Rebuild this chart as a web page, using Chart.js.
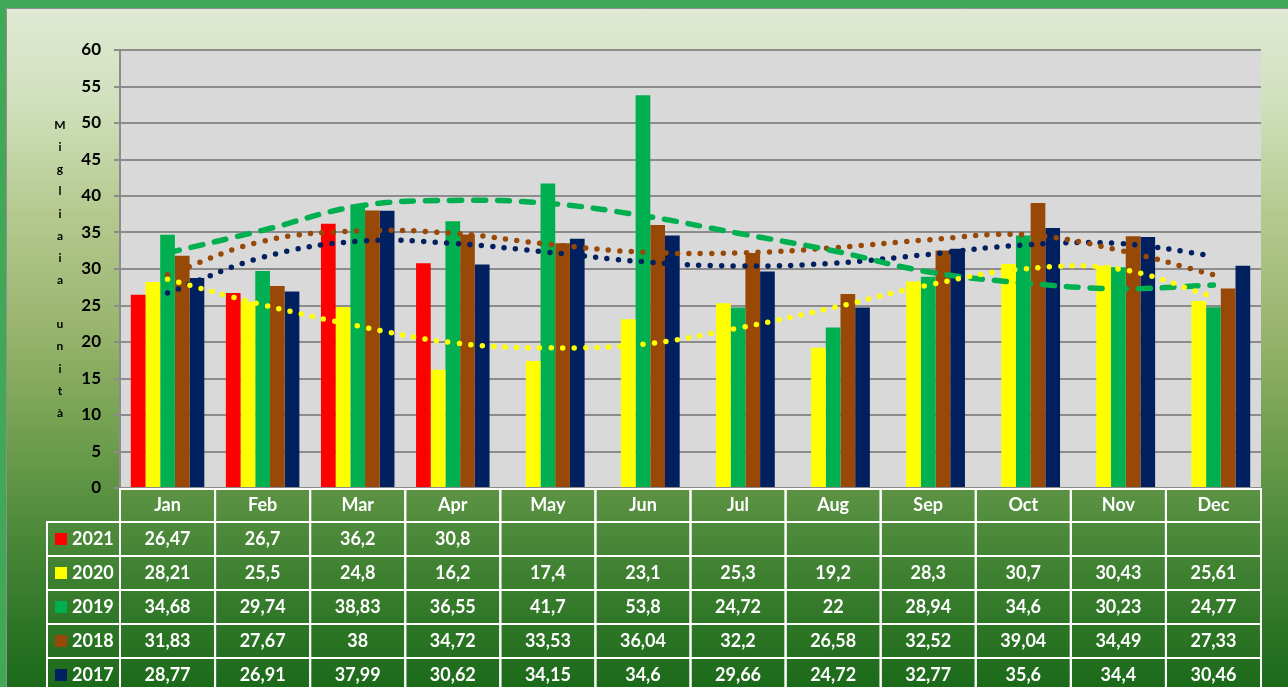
<!DOCTYPE html>
<html>
<head>
<meta charset="utf-8">
<script src="https://cdn.jsdelivr.net/npm/chart.js@4.4.0/dist/chart.umd.min.js"></script>
<style>
  html, body { margin: 0; padding: 0; background: #41a857; overflow: hidden; }
  canvas { display: block; }
</style>
</head>
<body>
<canvas id="chart" width="1288" height="687"></canvas>
<script>
// Data
const months = ['Jan', 'Feb', 'Mar', 'Apr', 'May', 'Jun', 'Jul', 'Aug', 'Sep', 'Oct', 'Nov', 'Dec'];
const years = ['2021', '2020', '2019', '2018', '2017'];

const values2021 = [26.47, 26.7, 36.2, 30.8, null, null, null, null, null, null, null, null];
const values2020 = [28.21, 25.5, 24.8, 16.2, 17.4, 23.1, 25.3, 19.2, 28.3, 30.7, 30.43, 25.61];
const values2019 = [34.68, 29.74, 38.83, 36.55, 41.7, 53.8, 24.72, 22, 28.94, 34.6, 30.23, 24.77];
const values2018 = [31.83, 27.67, 38, 34.72, 33.53, 36.04, 32.2, 26.58, 32.52, 39.04, 34.49, 27.33];
const values2017 = [28.77, 26.91, 37.99, 30.62, 34.15, 34.6, 29.66, 24.72, 32.77, 35.6, 34.4, 30.46];

// trend lines, read point by point at each month
const trend2020 = [28.6, 25.1, 22.2, 19.9, 19.2, 19.7, 21.9, 24.7, 27.8, 30.0, 30.0, 26.2];
const trend2019 = [32.2, 35.3, 38.6, 39.4, 39.0, 37.3, 34.9, 32.5, 29.6, 28.1, 27.3, 27.8];
const trend2018 = [29.2, 33.8, 35.2, 34.9, 33.4, 32.3, 32.2, 32.9, 34.0, 34.7, 32.6, 29.2];
const trend2017 = [26.7, 31.6, 33.8, 33.5, 32.3, 31.0, 30.4, 30.8, 32.0, 33.3, 33.5, 31.8];

const yTicks = [0, 5, 10, 15, 20, 25, 30, 35, 40, 45, 50, 55, 60];
const axisTitle = 'Migliaia unità';

const seriesValues = [values2021, values2020, values2019, values2018, values2017];
const seriesColors = ['#ff0000', '#ffff00', '#00b050', '#984807', '#002060'];

const FONT = 'Lato, "Open Sans", sans-serif';

// Background: green frame, gradient panel, grey plot area
const backgroundPlugin = {
  id: 'background',
  beforeDraw(chart) {
    const ctx = chart.ctx;
    const area = chart.chartArea;
    ctx.save();
    ctx.fillStyle = '#41a857';
    ctx.fillRect(0, 0, chart.width, chart.height);

    const g = ctx.createLinearGradient(0, 8, 0, chart.height);
    g.addColorStop(0, '#e0ead4');
    g.addColorStop(0.15, '#cfdfba');
    g.addColorStop(0.3, '#b5c98f');
    g.addColorStop(0.48, '#97b46d');
    g.addColorStop(0.62, '#73a050');
    g.addColorStop(0.76, '#4f8b3c');
    g.addColorStop(0.88, '#347a2a');
    g.addColorStop(1, '#1b6a1a');
    ctx.fillStyle = g;
    ctx.fillRect(6, 8, chart.width - 6, chart.height - 8);

    ctx.strokeStyle = '#8f8f8f';
    ctx.lineWidth = 1;
    ctx.beginPath();
    ctx.moveTo(6.5, chart.height);
    ctx.lineTo(6.5, 8.5);
    ctx.lineTo(chart.width, 8.5);
    ctx.stroke();

    ctx.fillStyle = '#d9d9d9';
    ctx.fillRect(area.left, area.top, area.right - area.left, area.bottom - area.top);
    ctx.restore();
  }
};

// Vertical stacked-letter axis title
const axisTitlePlugin = {
  id: 'axisTitle',
  afterDraw(chart) {
    const ctx = chart.ctx;
    const area = chart.chartArea;
    const chars = axisTitle.split('');
    const step = 22.15;
    const mid = (area.top + area.bottom) / 2;
    const first = mid - step * (chars.length - 1) / 2;
    ctx.save();
    ctx.fillStyle = '#000';
    ctx.font = 'bold 12px ' + FONT;
    ctx.textAlign = 'center';
    ctx.textBaseline = 'middle';
    chars.forEach((c, i) => ctx.fillText(c, 60, first + i * step));
    ctx.restore();
  }
};

// Data table under the plot, aligned on the x scale
const dataTablePlugin = {
  id: 'dataTable',
  afterDraw(chart) {
    const ctx = chart.ctx;
    const x = chart.scales.x;
    const top = chart.chartArea.bottom;
    const colW = x.getPixelForValue(1) - x.getPixelForValue(0);
    const headerH = 33;
    const rowH = 34;
    const legendLeft = 47;

    ctx.save();
    ctx.strokeStyle = '#ffffff';
    ctx.lineWidth = 2;
    ctx.fillStyle = '#ffffff';
    ctx.textAlign = 'center';
    ctx.textBaseline = 'middle';
    ctx.font = 'bold 18px ' + FONT;

    months.forEach((m, i) => {
      const cx = x.getPixelForValue(i);
      ctx.strokeRect(cx - colW / 2, top + 1, colW, headerH);
      ctx.fillText(m, cx, top + 1 + headerH / 2);
    });

    years.forEach((yr, r) => {
      const y0 = top + 1 + headerH + r * rowH;
      ctx.strokeRect(legendLeft, y0, x.left - legendLeft, rowH);
      ctx.fillStyle = seriesColors[r];
      ctx.fillRect(55, y0 + rowH / 2 - 6, 12, 12);
      ctx.fillStyle = '#ffffff';
      ctx.textAlign = 'left';
      ctx.fillText(yr, 72, y0 + rowH / 2);
      ctx.textAlign = 'center';
      seriesValues[r].forEach((v, i) => {
        const cx = x.getPixelForValue(i);
        ctx.strokeRect(cx - colW / 2, y0, colW, rowH);
        if (v !== null) ctx.fillText(String(v).replace('.', ','), cx, y0 + rowH / 2);
      });
    });
    ctx.restore();
  }
};

function trendLine(label, data, color, width, dash) {
  return {
    type: 'line',
    label: label,
    data: data,
    borderColor: color,
    borderWidth: width,
    borderDash: dash,
    borderCapStyle: 'round',
    pointRadius: 0,
    tension: 0.4,
    fill: false,
    order: 0
  };
}

const barSets = years.map((yr, i) => ({
  type: 'bar',
  label: yr,
  data: seriesValues[i],
  backgroundColor: seriesColors[i],
  borderWidth: 0,
  categoryPercentage: 0.773,
  barPercentage: 1.0,
  order: 1
}));

const ctx = document.getElementById('chart').getContext('2d');
const chart = new Chart(ctx, {
  type: 'bar',
  data: {
    labels: months,
    datasets: barSets.concat([
      trendLine('Poli. (2020)', trend2020, '#ffff00', 5.5, [0, 11.5]),
      trendLine('Poli. (2019)', trend2019, '#00b050', 5.5, [12, 12]),
      trendLine('Poli. (2018)', trend2018, '#984807', 5.5, [0, 11.5]),
      trendLine('Poli. (2017)', trend2017, '#002060', 5.5, [0, 11.5])
    ])
  },
  options: {
    responsive: false,
    animation: false,
    devicePixelRatio: 1,
    layout: { padding: { top: 50, left: 0, right: 27, bottom: 199 } },
    plugins: {
      legend: { display: false },
      tooltip: { enabled: false }
    },
    scales: {
      x: {
        display: false,
        offset: true
      },
      y: {
        min: 0,
        max: 60,
        afterFit(scale) { scale.width = 120; },
        afterBuildTicks(scale) { scale.ticks = yTicks.map(v => ({ value: v })); },
        ticks: {
          color: '#000',
          padding: 13,
          font: { family: FONT, weight: 'bold', size: 17 }
        },
        grid: {
          color: '#8c8c8c',
          lineWidth: 2,
          tickLength: 6
        },
        border: { display: true, color: '#8c8c8c', width: 2 }
      }
    }
  },
  plugins: [backgroundPlugin, axisTitlePlugin, dataTablePlugin]
});
</script>
</body>
</html>
